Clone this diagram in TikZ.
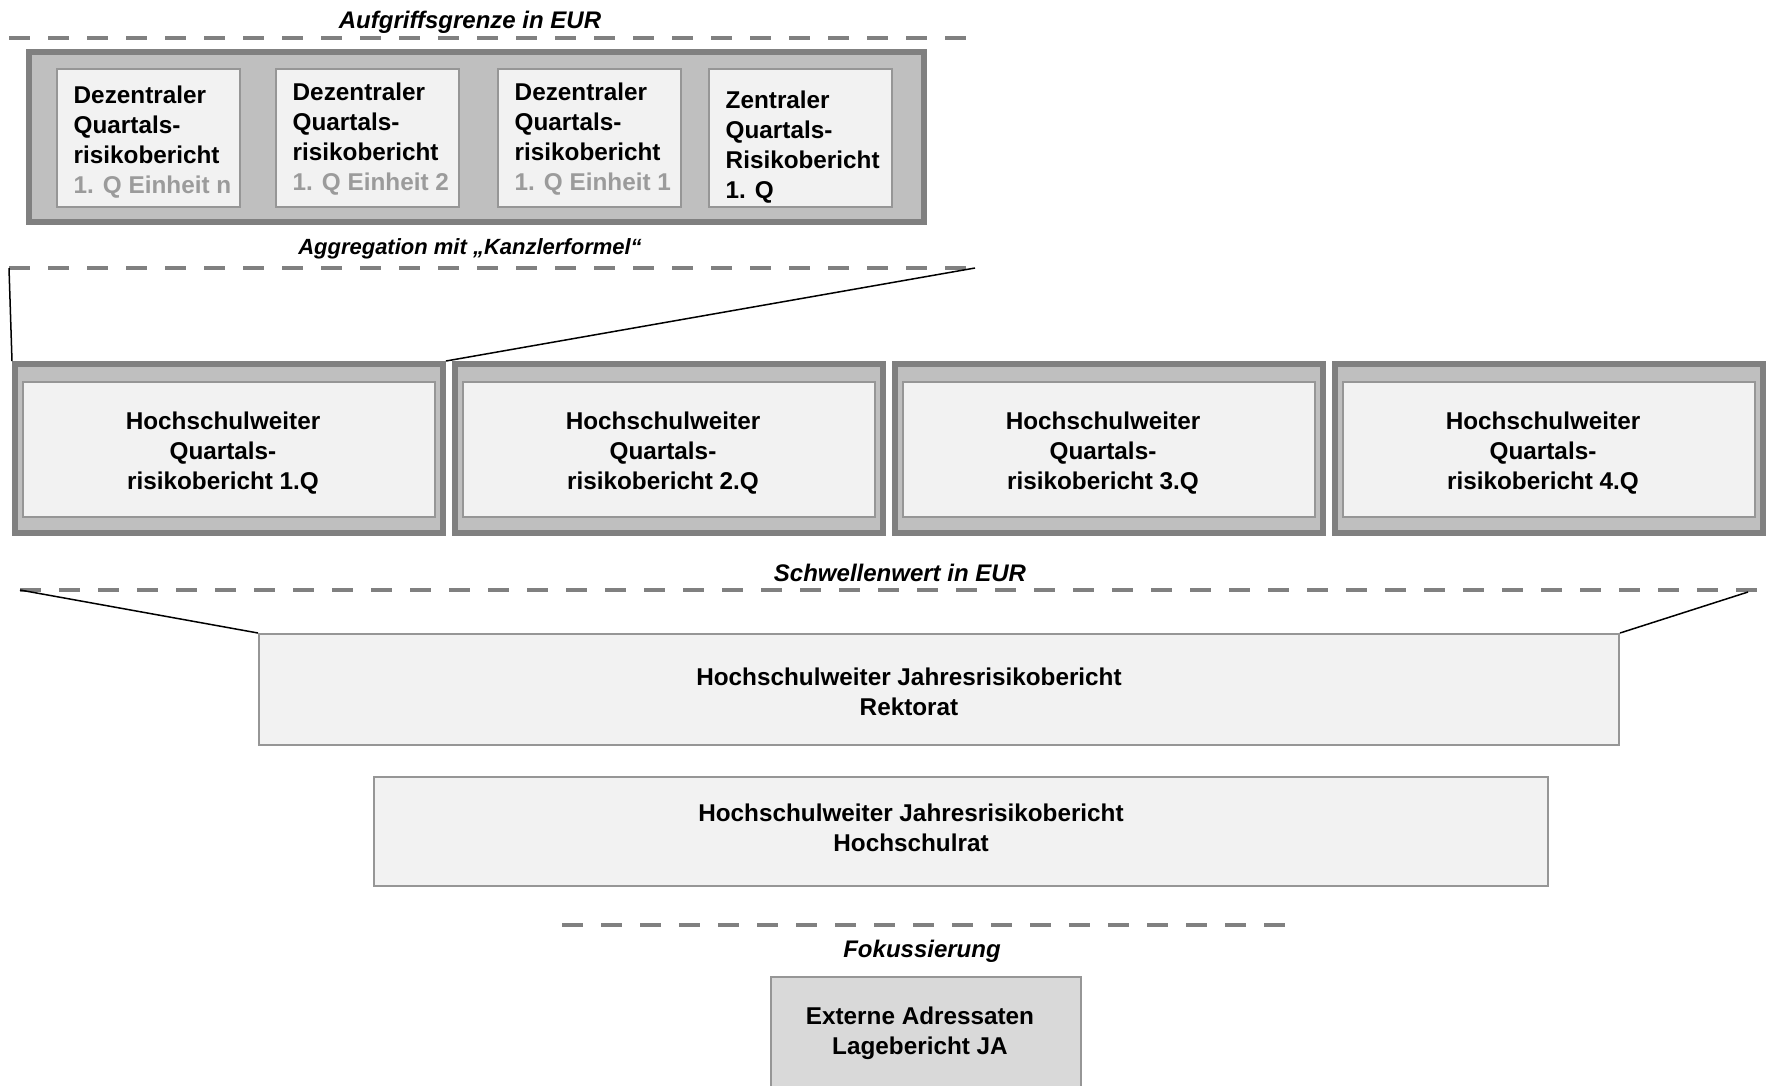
\documentclass[tikz,border=0pt]{standalone}
\usepackage{fontspec}
\setmainfont{Liberation Sans}
\usepackage{tikz}
\usetikzlibrary{positioning}
\definecolor{mgray}{RGB}{128,128,128}
\definecolor{mframe}{RGB}{191,191,191}
\definecolor{mbox}{RGB}{242,242,242}
\definecolor{mline}{RGB}{150,150,150}
\definecolor{mtext}{RGB}{155,155,155}
\definecolor{mext}{RGB}{217,217,217}
\tikzset{grenze/.style = {draw=mgray, line width=4pt, dash pattern=on 21pt off 18pt}}
\tikzset{rahmen/.style = {draw=mgray, fill=mframe, line width=6pt, inner sep=0pt}}
\tikzset{bericht/.style = {draw=mline, fill=mbox, line width=2pt, inner sep=0pt}}
\tikzset{btext/.style = {font=\fontsize{24.3}{30}\selectfont\bfseries, inner sep=0pt}}
\tikzset{ltext/.style = {font=\fontsize{24}{28}\selectfont\bfseries\itshape, inner sep=0pt}}
\tikzset{verbindung/.style = {draw=black, line width=1.5pt}}

\begin{document}
\begin{tikzpicture}[x=1pt, y=-1pt]
    \useasboundingbox (0, 0) rectangle (1768, 1085);
    \clip (0, 0) rectangle (1768, 1085);

    \coordinate (aufL) at (9, 38);
    \coordinate (aufR) at (975, 38);
    \coordinate (aggL) at (9, 268);
    \coordinate (aggR) at (975, 268);
    \coordinate (schwL) at (20, 590);
    \coordinate (schwR) at (1759, 590);
    \coordinate (fokL) at (562, 925);
    \coordinate (fokR) at (1295, 925);

    \node [ltext] (aufgriff) at (470, 22) {Aufgriffsgrenze in EUR};
    \draw [grenze] (aufL) -- (aufR);

    \node [rahmen, minimum width=895pt, minimum height=170pt] (oben) at (476.5, 137) {};

    \node [bericht, minimum width=183pt, minimum height=138pt] (dez3) at (148, 137.5) {};
    \node [bericht, minimum width=183pt, minimum height=138pt] (dez2) at (367, 137.5) {};
    \node [bericht, minimum width=183pt, minimum height=138pt] (dez1) at (589, 137.5) {};
    \node [bericht, minimum width=183pt, minimum height=138pt] (zent) at (800, 137.5) {};

    \node [btext, align=left, anchor=west, right=18pt of dez3.west, yshift=-5pt] (dez3text) {Dezentraler\\Quartals-\\risikobericht\\\textcolor{mtext}{1. Q Einheit n}};
    \node [btext, align=left, anchor=west, right=18pt of dez2.west, yshift=-2pt] (dez2text) {Dezentraler\\Quartals-\\risikobericht\\\textcolor{mtext}{1. Q Einheit 2}};
    \node [btext, align=left, anchor=west, right=18pt of dez1.west, yshift=-2pt] (dez1text) {Dezentraler\\Quartals-\\risikobericht\\\textcolor{mtext}{1. Q Einheit 1}};
    \node [btext, align=left, anchor=west, right=18pt of zent.west, yshift=-10pt] (zenttext) {Zentraler\\Quartals-\\Risikobericht\\1. Q};

    \node [ltext, font=\fontsize{22}{26}\selectfont\bfseries\itshape] (aggregation) at (470, 249) {Aggregation mit „Kanzlerformel“};
    \draw [grenze] (aggL) -- (aggR);

    \foreach \i in {1,...,4} {
      \node [rahmen, minimum width=428pt, minimum height=169pt] (quartal\i) at ({229+440*(\i-1)}, 448.5) {};
      \node [bericht, minimum width=412pt, minimum height=135pt] (hsq\i) at ({229+440*(\i-1)}, 449.5) {};
      \node [btext, align=center, xshift=-6pt, yshift=-3.5pt] (hsq\i text) at (hsq\i) {Hochschulweiter\\Quartals-\\risikobericht \i.Q};
    }

    \draw [verbindung] (aggL) -- (quartal1.north west);
    \draw [verbindung] (aggR) -- (quartal1.north east);

    \node [ltext] (schwelle) at (900, 573) {Schwellenwert in EUR};
    \draw [grenze] (schwL) -- (schwR);

    \node [bericht, minimum width=1360pt, minimum height=111pt] (rektorat) at (939, 689.5) {};
    \node [btext, align=center] (rektorattext) at (909, 692) {Hochschulweiter Jahresrisikobericht\\Rektorat};

    \draw [verbindung] (schwL) -- (rektorat.north west);
    \draw [verbindung] (1748, 592) -- (rektorat.north east);

    \node [bericht, minimum width=1174pt, minimum height=109pt] (hsrat) at (961, 831.5) {};
    \node [btext, align=center] (hsrattext) at (911, 828) {Hochschulweiter Jahresrisikobericht\\Hochschulrat};

    \draw [grenze] (fokL) -- (fokR);
    \node [ltext] (fokus) at (922, 951) {Fokussierung};

    \node [bericht, fill=mext, minimum width=310pt, minimum height=117pt] (extern) at (926, 1035.5) {};
    \node [btext, align=center] (externtext) at (920, 1033) {Externe Adressaten\\Lagebericht JA};
\end{tikzpicture}
\end{document}
